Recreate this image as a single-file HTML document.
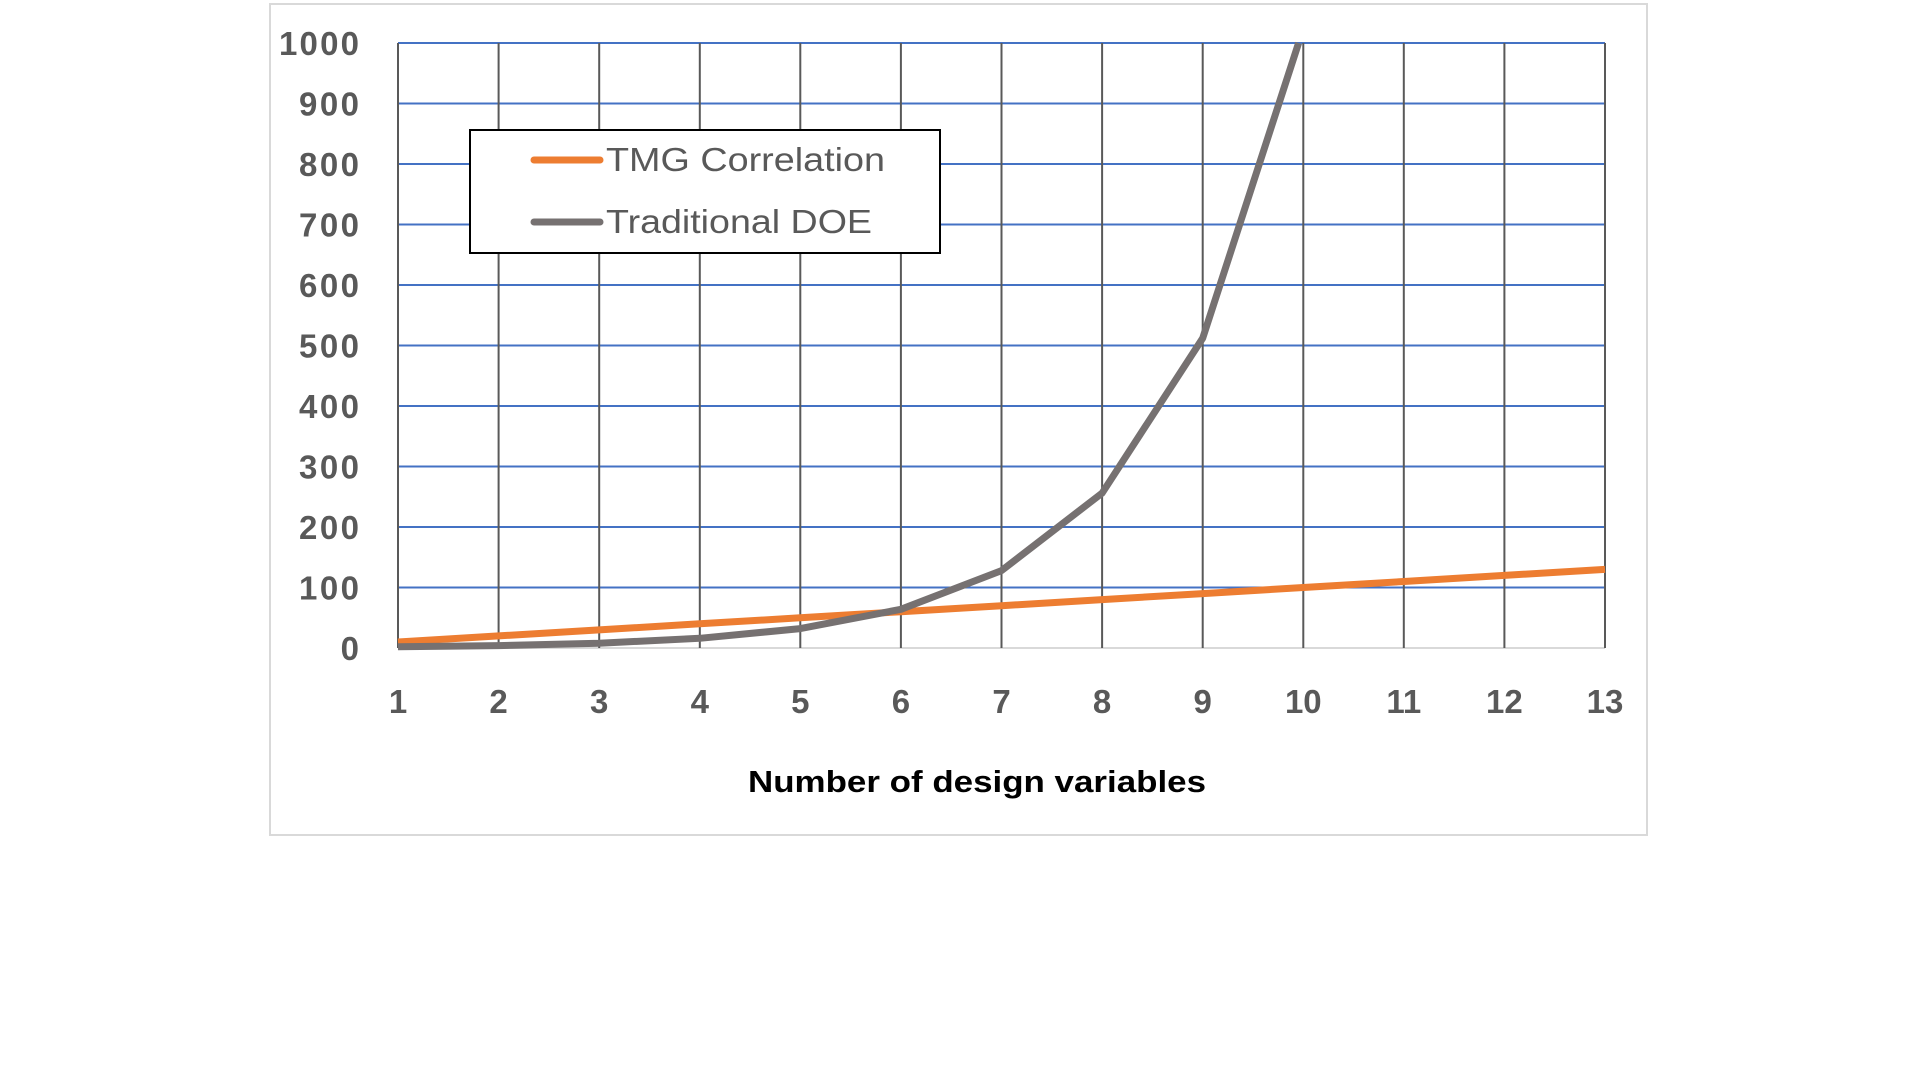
<!DOCTYPE html>
<html><head><meta charset="utf-8"><style>
html,body{margin:0;padding:0;background:#fff;}
svg{display:block;}
text{font-family:"Liberation Sans",sans-serif;}
</style></head><body>
<svg width="1920" height="1080" viewBox="0 0 1920 1080" xmlns="http://www.w3.org/2000/svg">
<rect x="270" y="4" width="1377" height="831" fill="#fff" stroke="#d9d9d9" stroke-width="2"/>
<g stroke="#4472C4" stroke-width="2">
<line x1="398" x2="1605" y1="43" y2="43"/><line x1="398" x2="1605" y1="103.5" y2="103.5"/>
<line x1="398" x2="1605" y1="164" y2="164"/><line x1="398" x2="1605" y1="224.5" y2="224.5"/>
<line x1="398" x2="1605" y1="285" y2="285"/><line x1="398" x2="1605" y1="345.5" y2="345.5"/>
<line x1="398" x2="1605" y1="406" y2="406"/><line x1="398" x2="1605" y1="466.5" y2="466.5"/>
<line x1="398" x2="1605" y1="527" y2="527"/><line x1="398" x2="1605" y1="587.5" y2="587.5"/>
</g>
<line x1="398" x2="1605" y1="648" y2="648" stroke="#d9d9d9" stroke-width="2"/>
<g stroke="#595959" stroke-width="2">
<line x1="398" x2="398" y1="43" y2="648"/><line x1="498.6" x2="498.6" y1="43" y2="648"/>
<line x1="599.2" x2="599.2" y1="43" y2="648"/><line x1="699.8" x2="699.8" y1="43" y2="648"/>
<line x1="800.3" x2="800.3" y1="43" y2="648"/><line x1="900.9" x2="900.9" y1="43" y2="648"/>
<line x1="1001.5" x2="1001.5" y1="43" y2="648"/><line x1="1102.1" x2="1102.1" y1="43" y2="648"/>
<line x1="1202.7" x2="1202.7" y1="43" y2="648"/><line x1="1303.3" x2="1303.3" y1="43" y2="648"/>
<line x1="1403.8" x2="1403.8" y1="43" y2="648"/><line x1="1504.4" x2="1504.4" y1="43" y2="648"/>
<line x1="1605" x2="1605" y1="43" y2="648"/>
</g>
<g font-size="33" font-weight="bold" fill="#595959" text-anchor="end">
<text x="359" y="55" textLength="80">1000</text><text x="359" y="115.5" textLength="60">900</text><text x="359" y="176" textLength="60">800</text>
<text x="359" y="236.5" textLength="60">700</text><text x="359" y="297" textLength="60">600</text><text x="359" y="357.5" textLength="60">500</text>
<text x="359" y="418" textLength="60">400</text><text x="359" y="478.5" textLength="60">300</text><text x="359" y="539" textLength="60">200</text>
<text x="359" y="599.5" textLength="60">100</text><text x="359" y="660">0</text>
</g>
<g font-size="33" font-weight="bold" fill="#595959" text-anchor="middle">
<text x="398" y="713">1</text><text x="498.6" y="713">2</text><text x="599.2" y="713">3</text>
<text x="699.8" y="713">4</text><text x="800.3" y="713">5</text><text x="900.9" y="713">6</text>
<text x="1001.5" y="713">7</text><text x="1102.1" y="713">8</text><text x="1202.7" y="713">9</text>
<text x="1303.3" y="713">10</text><text x="1403.8" y="713">11</text><text x="1504.4" y="713">12</text>
<text x="1605" y="713">13</text>
</g>
<text x="748" y="792" font-size="31" font-weight="bold" fill="#000" textLength="458" lengthAdjust="spacingAndGlyphs">Number of design variables</text>
<polyline fill="none" stroke="#ED7D31" stroke-width="7" stroke-linejoin="round"
points="398,642 498.6,635.9 599.2,629.9 699.8,623.8 800.3,617.8 900.9,611.7 1001.5,605.7 1102.1,599.6 1202.7,593.6 1303.3,587.5 1403.8,581.5 1504.4,575.4 1605,569.4"/>
<polyline fill="none" stroke="#767171" stroke-width="7" stroke-linejoin="round"
points="398,646.8 498.6,645.6 599.2,643.2 699.8,638.3 800.3,628.6 900.9,609.3 1001.5,570.6 1102.1,493.1 1202.7,338.2 1298.6,43"/>
<rect x="470" y="130" width="470" height="123" fill="#fff" stroke="#000" stroke-width="2"/>
<line x1="534" x2="600" y1="160" y2="160" stroke="#ED7D31" stroke-width="7" stroke-linecap="round"/>
<line x1="534" x2="600" y1="222" y2="222" stroke="#767171" stroke-width="7" stroke-linecap="round"/>
<g font-size="33" fill="#595959">
<text x="606" y="171" textLength="279" lengthAdjust="spacingAndGlyphs">TMG Correlation</text>
<text x="606" y="233" textLength="266" lengthAdjust="spacingAndGlyphs">Traditional DOE</text>
</g>
</svg>
</body></html>
